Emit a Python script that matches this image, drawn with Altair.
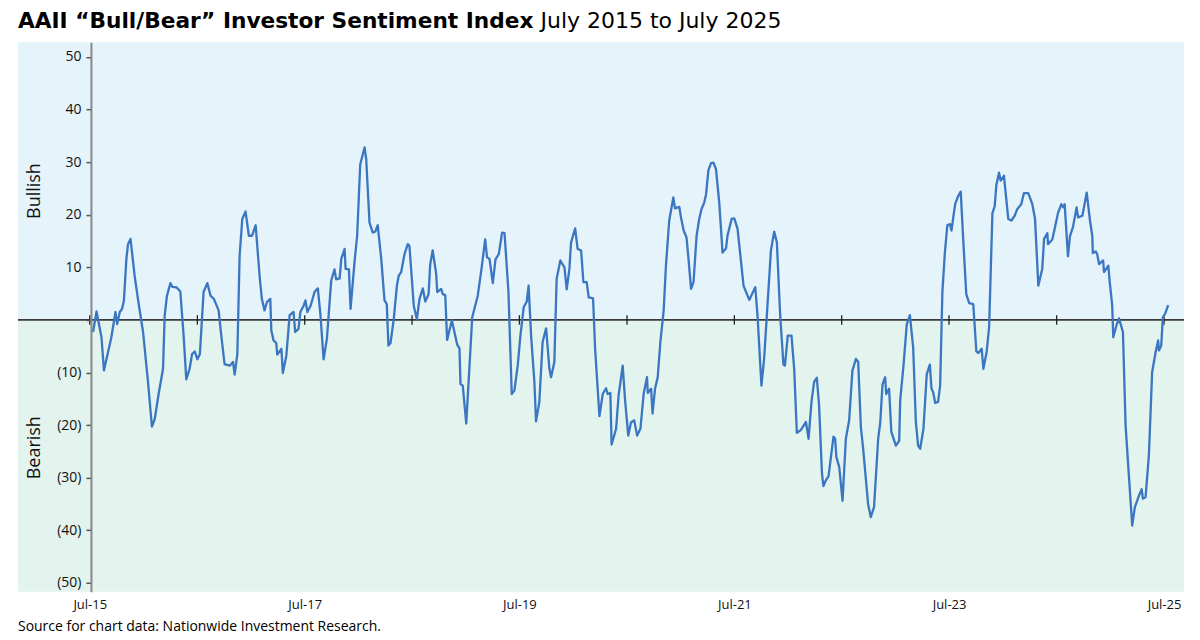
import altair as alt
import pandas as pd
import numpy as np

# weeks since 1 July 2015 and spread value (bullish minus bearish, %)
weeks = [1.6, 3.3, 5.7, 6.9, 10.5, 12.5, 13.3, 14.6, 15.7, 16.6, 17.8, 18.6, 19.8, 21.8, 23.9, 25.9,
         28.3, 30.2, 31.6, 33.5, 35.6, 36.4, 37.5, 39.2, 40.1, 42.1, 44.0, 45.6, 46.9, 48.5, 49.7, 51.0,
         52.3, 53.5, 55.3, 57.1, 58.7, 60.3, 62.6, 63.9, 65.5, 68.0, 69.6, 70.4, 71.7, 72.8, 74.1, 75.7,
         77.3, 78.8, 80.6, 82.5, 83.6, 84.9, 86.1, 87.7, 88.2, 89.3, 90.6, 91.1, 93.1, 93.8, 95.5, 97.1,
         99.0, 99.8, 101.4, 102.3, 103.9, 104.8, 105.7, 107.3, 109.2, 110.8, 112.1, 113.6, 115.2, 117.3,
         118.9, 119.7, 121.4, 122.2, 123.8, 124.3, 125.9, 126.7, 128.6, 129.9, 131.4, 133.5, 134.3, 135.9,
         137.5, 138.7, 139.9, 141.6, 143.2, 144.3, 145.1, 146.1, 147.7, 149.2, 150.1, 151.3, 152.9, 154.5,
         155.3, 157.4, 158.9, 160.2, 161.8, 163.0, 164.6, 165.4, 166.6, 168.3, 168.8, 170.7, 171.5, 172.7,
         173.6, 175.9, 178.5, 179.6, 180.1, 181.2, 182.9, 185.8, 188.5, 190.4, 192.1, 193.0, 194.2, 195.8,
         197.1, 198.7, 200.3, 201.5, 203.4, 205.0, 206.3, 207.9, 209.2, 210.8, 212.3, 213.2, 214.4, 216.0,
         216.8, 218.4, 220.0, 221.7, 223.3, 224.1, 225.7, 226.8, 228.6, 230.6, 231.7, 233.0, 233.8, 235.8,
         237.0, 238.7, 239.8, 241.4, 242.4, 244.5, 245.5, 247.6, 249.2, 250.8, 251.6, 252.9, 253.5, 255.7,
         256.9, 258.9, 260.0, 261.6, 262.9, 264.5, 265.9, 267.5, 269.1, 270.7, 271.1, 272.7, 273.4, 274.6,
         275.9, 277.2, 278.8, 279.9, 281.5, 283.5, 284.3, 286.4, 287.2, 288.5, 289.9, 290.8, 292.1, 293.3,
         294.8, 296.1, 297.2, 298.5, 299.4, 300.5, 301.8, 303.0, 304.2, 305.8, 307.4, 309.1, 309.8, 311.8,
         313.1, 314.7, 317.6, 320.4, 321.7, 323.3, 324.4, 326.3, 327.6, 330.9, 332.5, 333.8, 335.4, 337.0,
         337.7, 339.1, 340.9, 342.2, 343.5, 345.5, 347.9, 349.2, 350.6, 351.9, 353.2, 354.3, 355.7, 356.4,
         357.6, 358.9, 361.3, 362.1, 362.7, 364.1, 365.7, 367.3, 368.9, 370.5, 372.2, 373.3, 374.6, 375.7,
         378.1, 379.4, 381.0, 383.0, 384.0, 385.1, 386.4, 386.9, 388.3, 389.4, 391.6, 393.2, 393.7, 395.3,
         396.9, 398.4, 400.0, 401.3, 402.4, 403.4, 405.0, 406.6, 408.1, 408.9, 409.7, 410.7, 412.1, 413.1,
         414.2, 415.4, 416.6, 417.9, 418.6, 420.4, 421.8, 423.1, 424.4, 425.8, 427.2, 429.2, 430.7, 431.7,
         433.3, 434.1, 435.7, 436.9, 438.5, 439.6, 440.4, 441.7, 442.5, 444.1, 446.2, 447.7, 449.3, 450.6,
         452.5, 453.8, 455.9, 457.9, 459.2, 460.8, 462.7, 463.6, 465.2, 465.5, 467.6, 468.9, 470.4, 472.0,
         472.9, 473.6, 475.2, 476.2, 477.6, 479.4, 480.1, 482.2, 484.3, 485.9, 487.0, 487.3, 488.7, 489.4,
         490.3, 492.3, 492.7, 494.8, 495.5, 496.7, 497.2, 498.7, 500.0, 501.9, 503.2, 504.8, 506.4, 507.7,
         509.7, 511.0, 511.6, 512.9, 514.5, 516.1, 517.8, 519.0, 519.4, 520.5, 521.3, 522.3, 523.9]

spread = [-2.3, 1.6, -3.3, -9.6, -3.3, 1.5, -0.8, 1.5, 2.1, 3.7, 11.6, 14.4, 15.4, 8.4, 2.7, -2.3,
          -11.8, -20.3, -18.8, -14.0, -9.3, 0.8, 4.6, 7.0, 6.3, 6.2, 5.4, -3.0, -11.3, -9.3, -6.5, -6.0,
          -7.5, -6.5, 5.3, 7.0, 4.6, 4.0, 1.8, -3.0, -8.4, -8.7, -8.0, -10.4, -6.5, 12.2, 19.2, 20.6,
          16.0, 16.0, 18.0, 8.4, 4.0, 1.8, 3.4, 4.0, -2.0, -3.9, -4.4, -6.6, -5.5, -10.1, -6.8, 0.9,
          1.5, -2.3, -1.7, 1.5, 2.7, 3.7, 1.5, 2.7, 5.3, 6.0, 0.8, -7.5, -3.6, 7.5,
          9.6, 7.7, 7.9, 11.6, 13.5, 9.7, 9.6, 2.1, 10.9, 16.0, 29.6, 32.8, 30.6, 18.5,
          16.6, 16.8, 18.0, 11.6, 3.7, 3.0, -4.9, -4.4, 0.2, 6.5, 8.4, 9.1, 12.5, 14.4,
          14.1, 2.7, 0.1, 4.0, 6.0, 3.5, 4.9, 10.6, 13.2, 8.7, 5.3, 5.9, 4.9, 4.7,
          -3.8, -0.1, -4.7, -5.4, -12.2, -12.5, -19.7, 0.5, 4.6, 10.0, 15.3, 11.9, 11.6, 7.0,
          11.5, 12.5, 16.6, 16.5, 5.3, -14.1, -13.4, -8.7, -3.0, 2.4, 3.5, 6.5, -3.0, -11.8,
          -19.3, -15.6, -4.2, -1.6, -9.3, -10.9, -8.0, 7.8, 11.3, 10.0, 5.8, 9.7, 14.7, 17.4,
          13.5, 13.2, 7.2, 7.2, 4.3, 4.1, -5.5, -18.3, -14.1, -13.0, -14.1, -13.9, -23.7, -20.7,
          -14.4, -8.7, -15.0, -22.0, -19.5, -19.1, -22.0, -20.7, -14.0, -10.9, -13.9, -13.1, -17.8, -13.1,
          -10.9, -4.2, 1.8, 10.3, 18.9, 23.3, 21.2, 21.5, 19.5, 17.0, 15.7, 11.9, 5.9, 7.2,
          16.0, 19.3, 21.1, 22.3, 23.9, 28.4, 29.8, 29.9, 28.7, 22.3, 12.8, 13.6, 16.0, 19.2,
          19.3, 17.3, 6.5, 3.8, 4.9, 6.2, 0.8, -12.5, -7.4, 13.2, 16.8, 14.7, 0.8, -8.5,
          -8.7, -3.0, -3.0, -9.3, -21.5, -20.9, -19.4, -22.6, -15.6, -11.8, -11.0, -16.3, -29.2, -31.6,
          -30.5, -29.7, -22.2, -22.6, -26.1, -28.0, -34.4, -22.6, -19.1, -9.6, -7.4, -8.0, -20.4, -24.5,
          -35.0, -37.5, -35.6, -22.6, -19.6, -12.3, -10.9, -14.1, -13.1, -21.3, -23.9, -23.0, -15.3, -8.7,
          -0.8, 0.9, -5.2, -19.4, -23.9, -24.5, -20.7, -10.3, -8.5, -13.1, -13.7, -15.8, -15.6, -12.5,
          5.3, 12.8, 18.0, 18.2, 17.0, 22.0, 23.5, 24.4, 14.7, 4.9, 3.2, 3.0, -6.0, -6.3,
          -5.5, -9.3, -6.1, -1.4, 20.3, 21.6, 25.6, 28.0, 26.5, 27.4, 19.2, 18.9, 19.8, 21.1,
          22.0, 24.1, 24.1, 22.0, 19.2, 6.5, 9.7, 15.4, 16.5, 14.4, 15.3, 17.6, 20.4, 22.0,
          21.4, 22.0, 12.1, 16.0, 17.6, 21.4, 19.5, 19.8, 24.2, 18.9, 16.0, 12.7, 13.0, 12.5,
          10.6, 11.3, 9.1, 10.3, 7.2, 2.7, -3.3, -1.1, 0.3, -2.3, -20.1, -29.6, -39.1, -35.6,
          -33.4, -32.2, -34.0, -33.7, -25.8, -9.9, -6.1, -3.9, -5.8, -4.9, 0.5, 1.1, 2.8]

y_ticks = [-50, -40, -30, -20, -10, 0, 10, 20, 30, 40, 50]
label_years = [2015, 2017, 2019, 2021, 2023, 2025]
tick_years = list(range(2015, 2026))

title_bold = "AAII \u201cBull/Bear\u201d Investor Sentiment Index"
title_regular = "July 2015 to July 2025"
source_text = "Source for chart data: Nationwide Investment Research."

start = pd.Timestamp("2015-07-01")
dates = start + pd.to_timedelta(np.array(weeks) * 7, unit="D")
df = pd.DataFrame({"date": dates.strftime("%Y-%m-%dT%H:%M:%S"), "value": spread})

ticks_df = pd.DataFrame({"date": [f"{y}-07-01T00:00:00" for y in tick_years]})
bands = pd.DataFrame({"y1": [0, -51.7], "y2": [52.8, 0], "zone": ["bull", "bear"]})
side_labels = pd.DataFrame({"label": ["Bullish", "Bearish"], "y": [24.5, -24.3]})
one = pd.DataFrame({"k": [0]})

W, H = 1167, 550
FONT = "Open Sans"
TFONT = "DejaVu Sans"

xscale = alt.Scale(domain=[alt.DateTime(year=2014, month=10, date=30),
                           alt.DateTime(year=2025, month=9, date=7)])
yscale = alt.Scale(domain=[-51.7, 52.8], nice=False, zero=False)

xaxis = alt.Axis(values=[alt.DateTime(year=y, month=7, date=1) for y in label_years],
                 format="%b-%y", ticks=False, domain=False, grid=False, title=None,
                 labelFontSize=13, labelColor="#111", labelPadding=7, labelFont=FONT)
yaxis = alt.Axis(values=y_ticks, offset=-73, grid=False, title=None, zindex=2,
                 labelExpr="datum.value > 0 ? datum.value : (datum.value < 0 ? '(' + (-datum.value) + ')' : '')",
                 tickSize=5, tickColor="#555", tickWidth=1.5, domainColor="#888", domainWidth=2,
                 labelFontSize=14, labelColor="#111", labelPadding=5, labelFont=FONT)

bg = alt.Chart(bands).mark_rect().encode(
    x=alt.value(0), x2=alt.value(W),
    y=alt.Y("y1:Q", scale=yscale, axis=yaxis), y2="y2:Q",
    color=alt.Color("zone:N", scale=alt.Scale(domain=["bull", "bear"], range=["#e5f3fb", "#e3f3ee"]), legend=None),
)

zero = alt.Chart(one).mark_rule(color="#3a3a3a", strokeWidth=1.6).encode(y=alt.datum(0))

yr_ticks = alt.Chart(ticks_df).mark_rule(color="#222", strokeWidth=1.3).encode(
    x=alt.X("date:T", scale=xscale, axis=xaxis),
    y=alt.datum(-0.9), y2=alt.datum(0.9),
)

line = alt.Chart(df).mark_line(color="#3b76c2", strokeWidth=2.3, strokeJoin="round").encode(
    x=alt.X("date:T", scale=xscale, axis=xaxis),
    y=alt.Y("value:Q", scale=yscale, axis=yaxis),
)

sides = alt.Chart(side_labels).mark_text(angle=270, fontSize=18, font=FONT, color="#111").encode(
    x=alt.value(17), y=alt.Y("y:Q", scale=yscale, axis=yaxis), text="label:N"
)

t1 = alt.Chart(one).mark_text(text=title_bold, fontSize=21.7, fontWeight="bold", font=TFONT,
                              align="left", baseline="alphabetic", color="#000").encode(
    x=alt.value(0), y=alt.value(-14))
t2 = alt.Chart(one).mark_text(text=title_regular, fontSize=22, font=TFONT,
                              align="left", baseline="alphabetic", color="#000").encode(
    x=alt.value(523), y=alt.value(-14))
src = alt.Chart(one).mark_text(text=source_text, fontSize=14, font=FONT,
                               align="left", baseline="alphabetic", color="#000").encode(
    x=alt.value(0), y=alt.value(589))

chart = alt.layer(bg, zero, yr_ticks, line, sides, t1, t2, src).properties(
    width=W, height=H,
    autosize=alt.AutoSizeParams(type="none"),
    padding={"left": 10, "top": 34, "right": 8, "bottom": 46},
).configure_view(stroke=None)

chart.save("out.html", embed_options={"renderer": "svg", "actions": False})
